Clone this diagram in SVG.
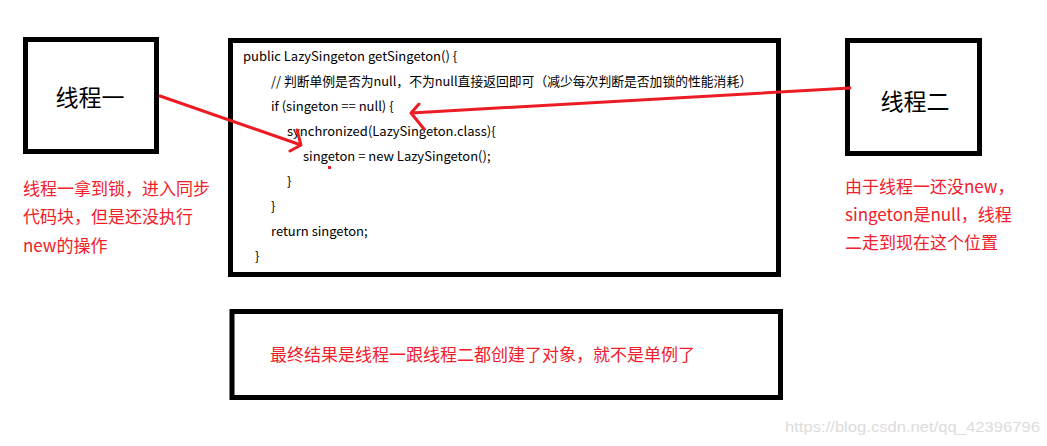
<svg xmlns="http://www.w3.org/2000/svg" width="1047" height="446" viewBox="0 0 1047 446">
<style>
.box{fill:#fff;stroke:#000;stroke-width:5}
.big{font-family:"Noto Sans CJK SC","Noto Sans",sans-serif;font-size:23px;fill:#000}
.code{font-family:"Noto Sans CJK SC","Noto Sans",sans-serif;font-size:13px;fill:#000}
.note{font-family:"Noto Sans CJK SC","Noto Sans",sans-serif;font-size:17px;fill:#f0202a}
.arr{fill:none;stroke:#ed1c24;stroke-width:3;stroke-linecap:round;stroke-linejoin:round}
.wm{font-family:"Liberation Sans",Arial,sans-serif;font-size:15px;fill:#dcdcdc}
</style>
<rect width="1047" height="446" fill="#fff"/>
<g id="thread1">
<rect class="box" x="25.5" y="39.5" width="131" height="112"/>
<text class="big" x="90" y="106" text-anchor="middle">线程一</text>
</g>
<g id="code">
<rect class="box" x="230.5" y="40.5" width="548" height="234"/>
<text class="code" x="243" y="61">public LazySingeton getSingeton() {</text>
<text class="code" x="271" y="86" textLength="481" lengthAdjust="spacingAndGlyphs">// 判断单例是否为null，不为null直接返回即可（减少每次判断是否加锁的性能消耗）</text>
<text class="code" x="271" y="111">if (singeton == null) {</text>
<text class="code" x="287" y="136">synchronized(LazySingeton.class){</text>
<text class="code" x="303" y="161">singeton = new LazySingeton();</text>
<text class="code" x="287" y="186">}</text>
<text class="code" x="271" y="211">}</text>
<text class="code" x="271" y="236">return singeton;</text>
<text class="code" x="255" y="261">}</text>
</g>
<g id="thread2">
<rect class="box" x="847.5" y="40.5" width="132" height="113"/>
<text class="big" x="915" y="110" text-anchor="middle">线程二</text>
</g>
<g id="note1">
<text class="note" x="23" y="195">线程一拿到锁，进入同步</text>
<text class="note" x="23" y="223">代码块，但是还没执行</text>
<text class="note" x="23" y="252">new的操作</text>
</g>
<g id="note2">
<text class="note" x="845" y="193">由于线程一还没new，</text>
<text class="note" x="845" y="221">singeton是null，线程</text>
<text class="note" x="845" y="249">二走到现在这个位置</text>
</g>
<g id="result">
<rect class="box" x="232" y="311.5" width="548.5" height="86"/>
<text class="note" x="270" y="361">最终结果是线程一跟线程二都创建了对象，就不是单例了</text>
</g>
<g id="connectors">
<path class="arr" d="M160 96 L301 145 M297 130 L301 145 L290 151"/>
<path class="arr" d="M850 88 L411 113 M419 104 L411 113 L424 129"/>
<rect x="328" y="166" width="3" height="3" fill="#ed1c24"/>
</g>
<text class="wm" x="785" y="432" textLength="255" lengthAdjust="spacingAndGlyphs">https://blog.csdn.net/qq_42396796</text>
</svg>
